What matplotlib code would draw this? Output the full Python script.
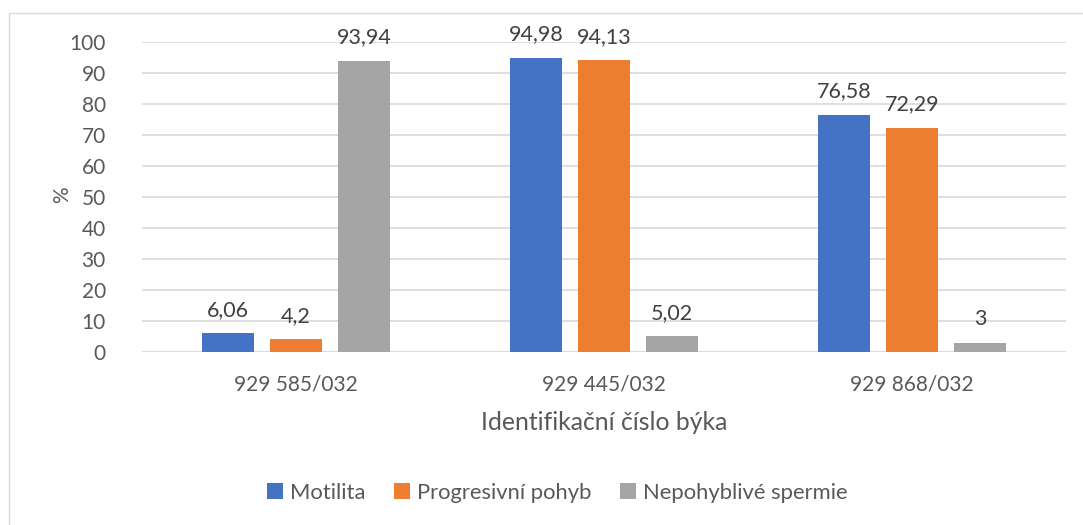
import numpy as np
import matplotlib.pyplot as plt
from matplotlib.patches import Rectangle

plt.rcParams['font.family'] = ['Lato', 'DejaVu Sans']

bulls = ["929 585/032", "929 445/032", "929 868/032"]
series = ["Motilita", "Progresivní pohyb", "Nepohyblivé spermie"]
motilita = [6.06, 94.98, 76.58]
progres = [4.2, 94.13, 72.29]
nepohyb = [93.94, 5.02, 3]
label_text = [["6,06", "94,98", "76,58"],
              ["4,2", "94,13", "72,29"],
              ["93,94", "5,02", "3"]]
colors = ["#4472C4", "#ED7D31", "#A5A5A5"]

W, H = 1083, 525
fig = plt.figure(figsize=(W / 100, H / 100), dpi=100)
# plot area in pixels: x 142..1066, y 42 (100) .. 352 (0)
ax = fig.add_axes([142 / W, 1 - 352 / H, (1066 - 142) / W, (352 - 42) / H])

# outer chart border (cut at right / bottom like the reference)
fig.patches.append(Rectangle((9 / W, -0.1), 1.2, 1 - 13 / H + 0.1,
                             transform=fig.transFigure, fill=False,
                             edgecolor="#d9d9d9", linewidth=1))

x = np.arange(len(bulls))
bw = 0.172
step = 0.2208
values = [motilita, progres, nepohyb]
for i, vals in enumerate(values):
    pos = x + (i - 1) * step
    ax.bar(pos, vals, width=bw, color=colors[i], label=series[i], zorder=3)
    for p, v, t in zip(pos, vals, label_text[i]):
        ax.text(p, v + 5.6, t, ha="center", va="baseline", fontsize=15.5,
                color="#404040")

ax.set_xlim(-0.5, 2.5)
ax.set_ylim(0, 100)
ax.set_yticks(range(0, 101, 10))
ax.yaxis.grid(True, color="#d9d9d9", linewidth=1.2, zorder=0)
ax.set_axisbelow(True)
for s in ax.spines.values():
    s.set_visible(False)
ax.axhline(0, color="#d9d9d9", linewidth=1.2, zorder=1)
ax.tick_params(axis="both", length=0, labelsize=15, colors="#595959")
ax.tick_params(axis="y", pad=26)
ax.tick_params(axis="x", pad=16)
ax.set_xticks(x)
ax.set_xticklabels(bulls)

fig.text(62 / W, 1 - 195 / H, "%", rotation=90, ha="center", va="center",
         fontsize=15, color="#595959")
fig.text(604 / W, 1 - 422 / H, "Identifikační číslo býka", ha="center",
         va="center", fontsize=17.8, color="#595959")

leg = fig.legend(loc="center", bbox_to_anchor=(557 / W, 1 - 493 / H),
                 ncol=3, frameon=False, fontsize=15.8, handlelength=0.75,
                 handleheight=0.75, handletextpad=0.3, columnspacing=1.3)
for t in leg.get_texts():
    t.set_color("#595959")

fig.savefig("out.png", dpi=100)
